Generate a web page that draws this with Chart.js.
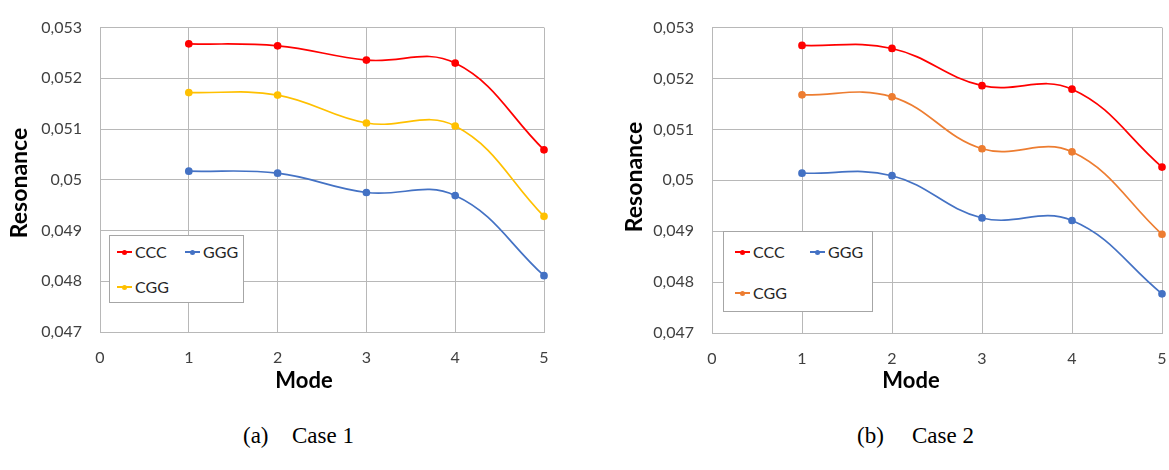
<!DOCTYPE html>
<html><head><meta charset="utf-8">
<script src="https://cdn.jsdelivr.net/npm/chart.js@4.4.0/dist/chart.umd.min.js"></script>
<style>
html,body{margin:0;padding:0;background:#fff;}
#wrap{position:relative;width:1169px;height:470px;overflow:hidden;font-family:Lato,"Open Sans",sans-serif;}
.panel{position:absolute;top:0;height:400px;}
.panel canvas{position:absolute;left:0;top:0;}
.legend{position:absolute;border:1px solid #a6a6a6;background:#fff;box-sizing:border-box;}
.item{position:absolute;display:flex;align-items:center;font-size:16px;color:#262626;line-height:16px;height:16px;margin-top:-8px;}
.mk{position:relative;width:15px;height:2px;margin-right:3px;}
.mk i{position:absolute;left:5px;top:-1.5px;width:5px;height:5px;border-radius:50%;}
.cap{position:absolute;top:424px;font-family:"Liberation Serif","Times New Roman",serif;font-size:23px;line-height:24px;color:#000;white-space:pre;}
</style></head>
<body>
<div id="wrap">
  <div class="panel" id="p1" style="left:0;width:590px;"><canvas id="c1" width="590" height="400"></canvas></div>
  <div class="panel" id="p2" style="left:590px;width:579px;"><canvas id="c2" width="579" height="400"></canvas></div>
</div>
<script>
// ---- data ----
const modes = [1, 2, 3, 4, 5];
const xTickLabels = ['0', '1', '2', '3', '4', '5'];
const yTickValues = [0.047, 0.048, 0.049, 0.050, 0.051, 0.052, 0.053];
const yTickLabels = ['0,047', '0,048', '0,049', '0,05', '0,051', '0,052', '0,053'];
const seriesNames = ['CCC', 'GGG', 'CGG'];
const xTitle = 'Mode';
const yTitle = 'Resonance';

const case1CCC = [0.05268, 0.05264, 0.05236, 0.05230, 0.05059];
const case1GGG = [0.05017, 0.05013, 0.04975, 0.04969, 0.04811];
const case1CGG = [0.05172, 0.05167, 0.05112, 0.05106, 0.04928];

const case2CCC = [0.05265, 0.05259, 0.05186, 0.05179, 0.05026];
const case2GGG = [0.05014, 0.05009, 0.04926, 0.04921, 0.04777];
const case2CGG = [0.05168, 0.05164, 0.05062, 0.05056, 0.04894];

const case1Colors = ['#FF0000', '#4472C4', '#FFC000'];
const case2Colors = ['#FF0000', '#4472C4', '#ED7D31'];

const captionTags = ['(a)', '(b)'];
const captionTexts = ['Case 1', 'Case 2'];

// ---- layout / style ----
const panels = [
  { canvas: 'c1', panel: 'p1', W: 590, H: 400,
    area: { left: 100, right: 544, top: 15, bottom: 332 },
    xTitlePos: [304, 388], yTitlePos: [27, 183],
    legend: { left: 109, top: 235, width: 135, height: 68,
      items: [[117, 252], [185, 252], [117, 287]] },
    series: [case1CCC, case1GGG, case1CGG], colors: case1Colors,
    cap: { tagX: 243, textX: 292 } },
  { canvas: 'c2', panel: 'p2', W: 579, H: 400,
    area: { left: 122, right: 572, top: 15, bottom: 333 },
    xTitlePos: [321, 388], yTitlePos: [52, 177],
    legend: { left: 133, top: 231, width: 150, height: 81,
      items: [[145, 252], [220, 252], [145, 293]] },
    series: [case2CCC, case2GGG, case2CGG], colors: case2Colors,
    cap: { tagX: 857, textX: 912 } }
];

const gridColor = '#b8b8b8';
const tickColor = '#404040';
const tickFont = { family: 'Lato', size: 16 };

const titlePlugin = {
  id: 'posTitles',
  afterDraw(chart, args, opts) {
    const ctx = chart.ctx;
    ctx.save();
    ctx.fillStyle = '#000';
    ctx.textAlign = 'center';
    ctx.textBaseline = 'alphabetic';
    ctx.font = 'bold 22px Lato';
    ctx.fillText(xTitle, opts.xPos[0], opts.xPos[1]);
    ctx.translate(opts.yPos[0], opts.yPos[1]);
    ctx.rotate(-Math.PI / 2);
    ctx.font = 'bold 23px Lato';
    ctx.fillText(yTitle, 0, 0);
    ctx.restore();
  }
};

panels.forEach((p, pi) => {
  const datasets = seriesNames.map((name, si) => ({
    label: name,
    data: modes.map((m, i) => ({ x: m, y: p.series[si][i] })),
    borderColor: p.colors[si],
    backgroundColor: p.colors[si],
    borderWidth: 1.7,
    pointRadius: 3,
    pointHoverRadius: 3,
    tension: 0.4,
    fill: false,
    clip: false
  }));

  new Chart(document.getElementById(p.canvas), {
    type: 'line',
    data: { datasets },
    plugins: [titlePlugin],
    options: {
      responsive: false,
      animation: false,
      events: [],
      layout: { padding: { left: 0, top: p.area.top, right: p.W - p.area.right, bottom: 0 } },
      plugins: {
        legend: { display: false },
        tooltip: { enabled: false },
        posTitles: { xPos: p.xTitlePos, yPos: p.yTitlePos }
      },
      scales: {
        x: {
          type: 'linear', min: 0, max: 5,
          afterBuildTicks(s) { s.ticks = xTickLabels.map((t, i) => ({ value: i })); },
          afterFit(s) { s.height = p.H - p.area.bottom; s.paddingLeft = 0; s.paddingRight = 0; },
          ticks: { padding: 16, color: tickColor, font: tickFont, maxRotation: 0,
                   callback: (v, i) => xTickLabels[i] },
          grid: { color: gridColor, drawTicks: false, lineWidth: 1 },
          border: { color: gridColor, width: 1 }
        },
        y: {
          type: 'linear', min: 0.047, max: 0.053,
          afterBuildTicks(s) { s.ticks = yTickValues.map(v => ({ value: v })); },
          afterFit(s) { s.width = p.area.left; },
          ticks: { padding: 18, color: tickColor, font: tickFont,
                   callback: (v, i) => yTickLabels[i] },
          grid: { color: gridColor, drawTicks: false, lineWidth: 1 },
          border: { color: gridColor, width: 1 }
        }
      }
    }
  });

  // legend (HTML, real text)
  const panelEl = document.getElementById(p.panel);
  const lg = document.createElement('div');
  lg.className = 'legend';
  Object.assign(lg.style, { left: p.legend.left + 'px', top: p.legend.top + 'px',
    width: p.legend.width + 'px', height: p.legend.height + 'px' });
  panelEl.appendChild(lg);
  seriesNames.forEach((name, si) => {
    const it = document.createElement('div');
    it.className = 'item';
    it.style.left = (p.legend.items[si][0]) + 'px';
    it.style.top = (p.legend.items[si][1]) + 'px';
    const mk = document.createElement('span');
    mk.className = 'mk';
    mk.style.background = p.colors[si];
    const dot = document.createElement('i');
    dot.style.background = p.colors[si];
    mk.appendChild(dot);
    const tx = document.createElement('span');
    tx.textContent = name;
    it.appendChild(mk); it.appendChild(tx);
    panelEl.appendChild(it);
  });

  // caption
  const wrap = document.getElementById('wrap');
  const tag = document.createElement('div');
  tag.className = 'cap'; tag.style.left = p.cap.tagX + 'px'; tag.textContent = captionTags[pi];
  const txt = document.createElement('div');
  txt.className = 'cap'; txt.style.left = p.cap.textX + 'px'; txt.textContent = captionTexts[pi];
  wrap.appendChild(tag); wrap.appendChild(txt);
});
</script>
</body></html>
